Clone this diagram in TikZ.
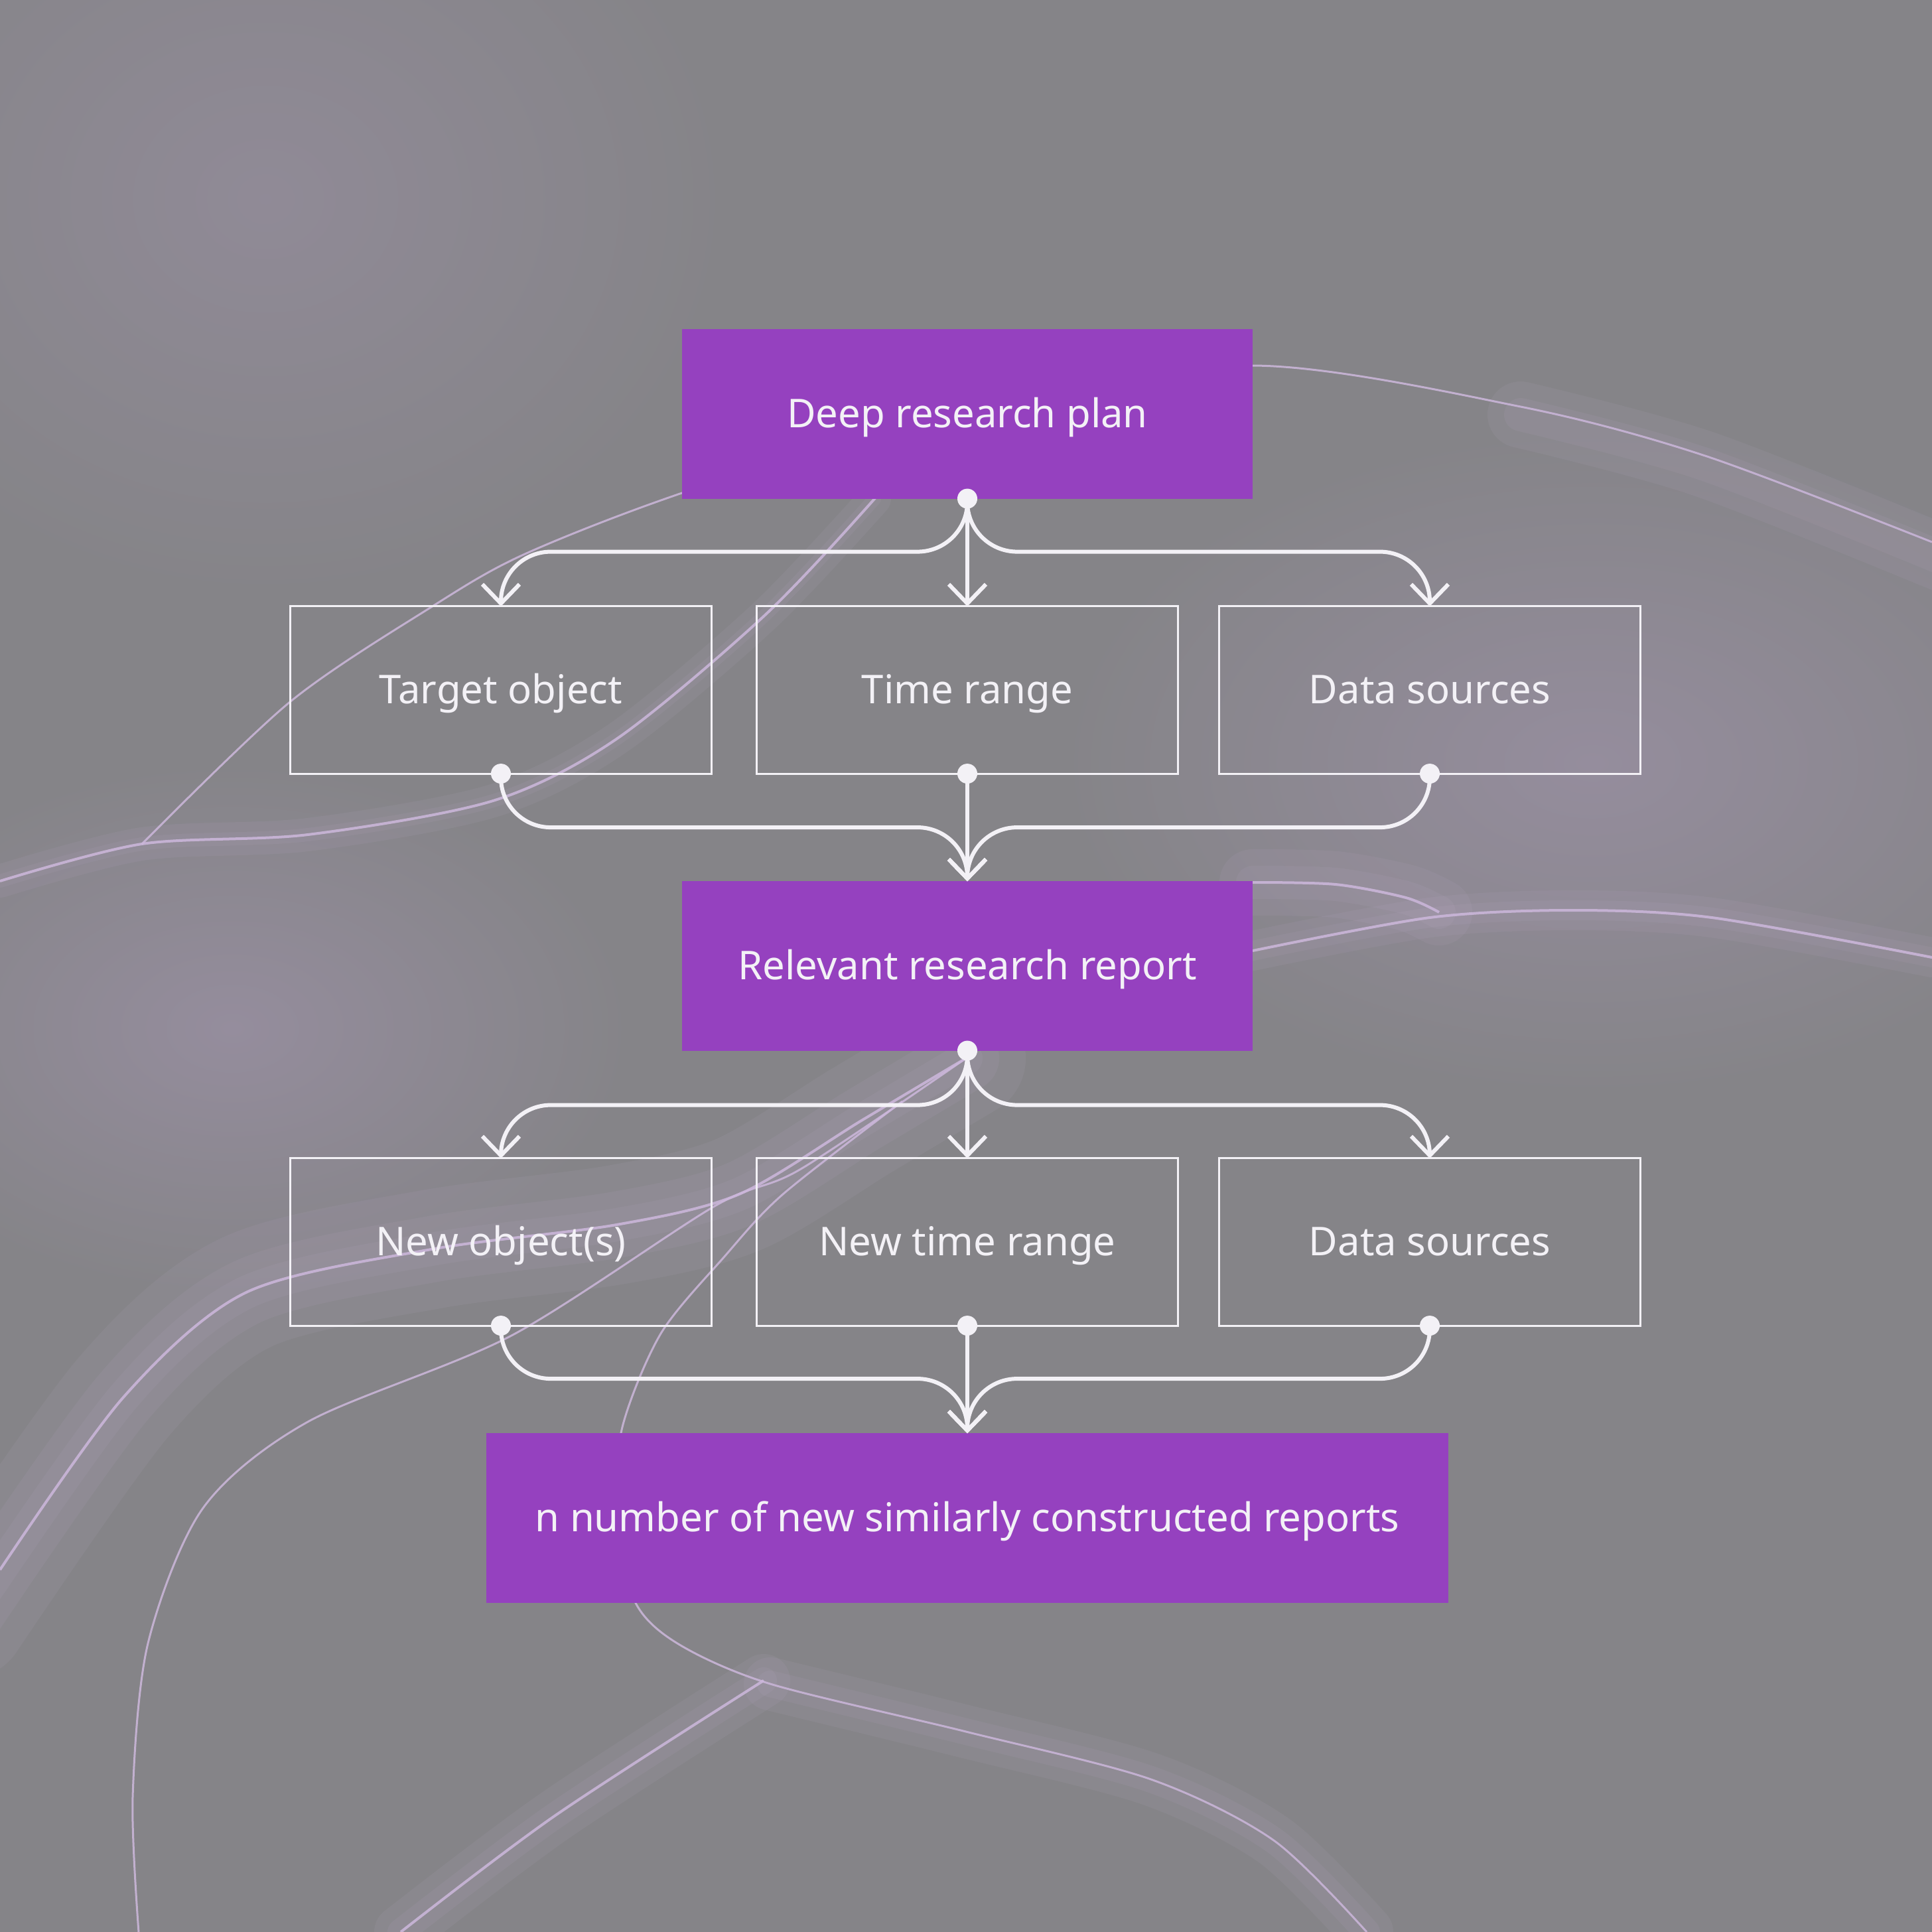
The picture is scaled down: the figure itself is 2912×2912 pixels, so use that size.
\documentclass[tikz,border=0pt]{standalone}
\usepackage{fontspec}
\setmainfont{Noto Sans}
\usetikzlibrary{arrows.meta}

\definecolor{bggray}{HTML}{858488}
\definecolor{hazecol}{HTML}{958D9D}
\definecolor{plum}{HTML}{9541BF}
\definecolor{wavecol}{HTML}{CDB8DC}
\definecolor{ink}{HTML}{F3F1F6}

\tikzset{
  purplebox/.style={fill=plum, text=ink, minimum width=8.6cm, minimum height=2.55cm,
    inner sep=0pt, outer sep=0pt, text height=0.4cm, text depth=0pt,
    font=\fontsize{17pt}{20pt}\selectfont},
  framebox/.style={draw=ink, line width=0.3mm, text=ink, minimum width=6.35cm,
    minimum height=2.52cm, inner sep=0pt, outer sep=0pt, text height=0.4cm, text depth=0pt,
    font=\fontsize{17pt}{20pt}\selectfont},
  conn/.style={draw=ink, line width=0.6mm, rounded corners=7.5mm,
    -{Straight Barb[length=2.9mm,width=5.6mm]}},
  dot/.style={fill=ink},
  wave/.style={draw=wavecol, line width=0.4mm, opacity=0.85},
  glow/.style={draw=wavecol, line width=#1, opacity=0.08, line cap=round},
}

\begin{document}
\begin{tikzpicture}[x=0.01cm, y=-0.01cm]
  % background
  \fill[bggray] (0,0) rectangle (2912,2912);
  \useasboundingbox (0,0) rectangle (2912,2912);
  \shade[inner color=hazecol, outer color=bggray] (2400,1150) ellipse [x radius=8cm, y radius=5cm];
  \shade[inner color=hazecol, outer color=bggray] (350,1550) ellipse [x radius=6cm, y radius=4cm];
  \shade[inner color=hazecol!70!bggray, outer color=bggray] (400,300) ellipse [x radius=7cm, y radius=6cm];

  % waves
  \foreach \w in {18mm,10mm,5mm}
    \draw[glow=\w] plot[smooth] coordinates {(-50,2440) (186,2106) (371,1948) (650,1883) (929,1846) (1114,1800) (1300,1688) (1456,1595)};
  \draw[wave] plot[smooth] coordinates {(0,2366) (186,2106) (371,1948) (650,1883) (929,1846) (1114,1800) (1300,1688) (1456,1595)};

  \foreach \w in {5mm,2mm}
    \draw[glow=\w] plot[smooth] coordinates {(0,1328) (214,1272) (464,1258) (743,1207) (929,1114) (1151,929) (1318,752)};
  \draw[wave] plot[smooth] coordinates {(0,1328) (214,1272) (464,1258) (743,1207) (929,1114) (1151,929) (1318,752) (1400,650)};
  \draw[wave, line width=0.3mm] plot[smooth] coordinates {(214,1272) (437,1058) (650,915) (789,836) (1028,743) (1450,610) (1888,551) (2292,613) (2570,687) (2912,817)};
  \foreach \w in {10mm,5mm}
    \draw[glow=\w] plot[smooth] coordinates {(2292,625) (2570,700) (2960,855)};

  \foreach \w in {10mm,5mm}
    \draw[glow=\w] plot[smooth] coordinates {(1888,1330) (2013,1333) (2119,1353) (2169,1375)};
  \draw[wave] plot[smooth] coordinates {(1888,1330) (2013,1333) (2119,1353) (2169,1375)};
  \foreach \w in {6mm,3mm}
    \draw[glow=\w] plot[smooth] coordinates {(1888,1433) (2155,1383) (2367,1372) (2580,1383) (2912,1443)};
  \draw[wave] plot[smooth] coordinates {(1888,1433) (2155,1383) (2367,1372) (2580,1383) (2912,1443)};

  \draw[wave, line width=0.3mm] plot[smooth] coordinates {(1456,1595) (1207,1762) (1077,1818) (771,2013) (464,2143) (306,2273) (223,2477) (200,2709) (209,2912)};
  \draw[wave, line width=0.3mm] plot[smooth] coordinates {(1360,1660) (1180,1800) (1091,1895) (996,2010) (938,2151) (929,2280) (956,2412) (1021,2477) (1161,2538) (1456,2610) (1735,2682) (1920,2774) (2060,2912)};
  \foreach \w in {8mm,4mm}
    \draw[glow=\w] plot[smooth] coordinates {(1161,2538) (1456,2610) (1735,2682) (1920,2774) (2060,2912)};
  \foreach \w in {8mm,4mm}
    \draw[glow=\w] plot[smooth] coordinates {(604,2912) (836,2737) (1151,2533)};
  \draw[wave] plot[smooth] coordinates {(604,2912) (836,2737) (1151,2533)};

  % nodes
  \node[purplebox] (plan) at (1458,624) {Deep research plan};

  \node[framebox] (target) at (755,1040) {Target object};
  \node[framebox] (time) at (1458,1040) {Time range};
  \node[framebox] (data) at (2155,1040) {Data sources};

  \node[purplebox] (report) at (1458,1456) {Relevant research report};

  \node[framebox] (newobj) at (755,1872) {New object(s)};
  \node[framebox] (newtime) at (1458,1872) {New time range};
  \node[framebox] (newdata) at (2155,1872) {Data sources};

  \node[purplebox, minimum width=14.5cm] (reports) at (1458,2288) {n number of new similarly constructed reports};

  % plan -> first row
  \draw[conn] (plan.south) -- ++(0,80) -| (target.north);
  \draw[conn] (plan.south) -- (time.north);
  \draw[conn] (plan.south) -- ++(0,80) -| (data.north);

  % first row -> report
  \draw[conn] (target.south) -- ++(0,81) -| (report.north);
  \draw[conn] (time.south) -- (report.north);
  \draw[conn] (data.south) -- ++(0,81) -| (report.north);

  % report -> second row
  \draw[conn] (report.south) -- ++(0,82) -| (newobj.north);
  \draw[conn] (report.south) -- (newtime.north);
  \draw[conn] (report.south) -- ++(0,82) -| (newdata.north);

  % second row -> reports
  \draw[conn] (newobj.south) -- ++(0,80) -| (reports.north);
  \draw[conn] (newtime.south) -- (reports.north);
  \draw[conn] (newdata.south) -- ++(0,80) -| (reports.north);

  % dots
  \foreach \n in {plan, target, time, data, report, newobj, newtime, newdata}
    \fill[dot] (\n.south) circle [radius=1.5mm];
\end{tikzpicture}
\end{document}
